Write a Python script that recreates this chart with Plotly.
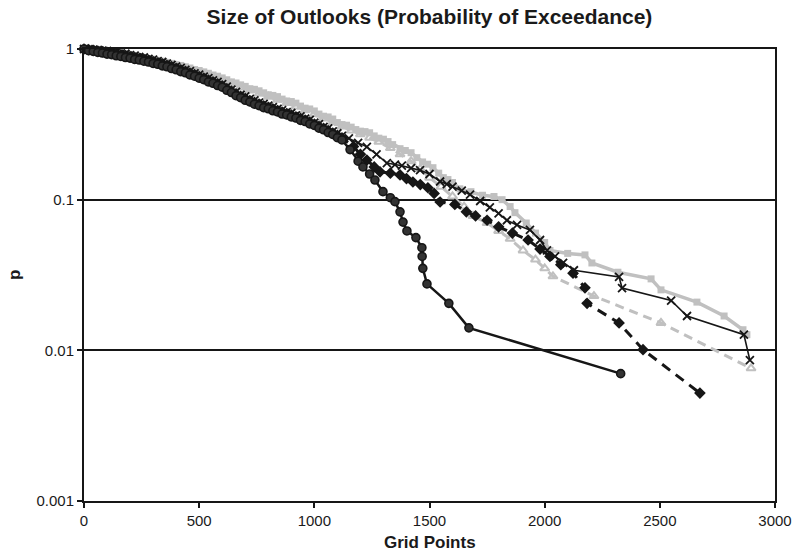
import plotly.graph_objects as go

# Exceedance curves: grid points in an outlook vs probability of exceedance
# Series A - black solid, circle markers
a_x = [0, 20, 40, 60, 80, 100, 120, 140, 160, 180, 200, 220, 240, 260, 280, 300,
       320, 340, 360, 380, 400, 420, 440, 460, 480, 500, 520, 540, 560, 580, 600,
       620, 640, 660, 680, 700, 720, 740, 760, 780, 800, 820, 840, 860, 880, 900,
       920, 940, 960, 980, 1000, 1020, 1040, 1060, 1080, 1100, 1120, 1155,
       1190, 1211, 1240, 1263, 1298, 1330, 1350, 1372, 1385, 1402, 1441, 1467, 1468,
       1471, 1489, 1584, 1671, 2330]
a_p = [1.0, 0.975, 0.965, 0.95, 0.94, 0.925, 0.918, 0.902, 0.893, 0.878, 0.87, 0.853,
       0.845, 0.83, 0.82, 0.802, 0.792, 0.773, 0.762, 0.742, 0.728, 0.708, 0.695, 0.673,
       0.66, 0.64, 0.626, 0.605, 0.592, 0.572, 0.558, 0.532, 0.514, 0.49, 0.475, 0.457,
       0.446, 0.43, 0.421, 0.408, 0.401, 0.389, 0.382, 0.37, 0.365, 0.354, 0.348, 0.336,
       0.33, 0.318, 0.311, 0.298, 0.291, 0.279, 0.271, 0.258, 0.249, 0.215,
       0.18, 0.165, 0.148, 0.135, 0.113, 0.103, 0.097, 0.083, 0.071, 0.062, 0.056,
       0.048, 0.042, 0.035, 0.0276, 0.0205, 0.0141, 0.007]

# Series B - black dashed, diamond markers
b_x = [0, 20, 40, 60, 80, 100, 120, 140, 160, 180, 200, 220, 240, 260, 280, 300,
       320, 340, 360, 380, 400, 420, 440, 460, 480, 500, 520, 540, 560, 580, 600,
       620, 640, 660, 680, 700, 720, 740, 760, 780, 800, 820, 840, 860, 880, 900,
       920, 940, 960, 980, 1000, 1020, 1040, 1060, 1080, 1100, 1120, 1170,
       1200, 1228, 1260, 1285, 1330, 1372, 1400, 1428, 1460, 1493, 1520, 1546, 1610,
       1660, 1700, 1750, 1800, 1860, 1928, 1980, 2023, 2070, 2123, 2175, 2184, 2323,
       2427, 2674]
b_p = [1.0, 0.99, 0.98, 0.97, 0.96, 0.95, 0.94, 0.928, 0.915, 0.903, 0.89, 0.878,
       0.865, 0.853, 0.84, 0.826, 0.81, 0.796, 0.78, 0.763, 0.745, 0.728, 0.71, 0.692,
       0.675, 0.657, 0.64, 0.622, 0.605, 0.588, 0.57, 0.547, 0.525, 0.503, 0.485, 0.47,
       0.455, 0.442, 0.43, 0.42, 0.41, 0.4, 0.39, 0.381, 0.372, 0.364, 0.355, 0.346,
       0.337, 0.327, 0.317, 0.307, 0.297, 0.287, 0.277, 0.267, 0.257, 0.225,
       0.2, 0.183, 0.165, 0.153, 0.15, 0.146, 0.138, 0.131, 0.126, 0.12, 0.11, 0.0965,
       0.093, 0.083, 0.078, 0.073, 0.066, 0.06, 0.054, 0.047, 0.042, 0.037, 0.0325,
       0.026, 0.0205, 0.0152, 0.0101, 0.0052]

# Series C - thin black line, x markers
c_x = [0, 20, 40, 60, 80, 100, 120, 140, 160, 180, 200, 220, 240, 260, 280, 300,
       320, 340, 360, 380, 400, 420, 440, 460, 480, 500, 520, 540, 560, 580, 600,
       620, 640, 660, 680, 700, 720, 740, 760, 780, 800, 820, 840, 860, 880, 900,
       920, 940, 960, 980, 1000, 1020, 1040, 1060, 1080, 1100, 1120, 1150,
       1190, 1228, 1270, 1315, 1350, 1380, 1420, 1459, 1500, 1546, 1575, 1600, 1640,
       1676, 1720, 1762, 1800, 1836, 1880, 1936, 1980, 2010, 2045, 2080, 2127, 2323,
       2336, 2549, 2618, 2865, 2891]
c_p = [1.0, 0.998, 0.99, 0.985, 0.975, 0.972, 0.96, 0.955, 0.935, 0.93, 0.91, 0.903,
       0.885, 0.878, 0.86, 0.85, 0.83, 0.82, 0.8, 0.785, 0.765, 0.75, 0.727, 0.713,
       0.69, 0.676, 0.655, 0.64, 0.62, 0.605, 0.585, 0.563, 0.538, 0.52, 0.497, 0.485,
       0.466, 0.456, 0.441, 0.433, 0.42, 0.412, 0.4, 0.393, 0.381, 0.376, 0.363, 0.357,
       0.345, 0.338, 0.325, 0.317, 0.304, 0.297, 0.284, 0.276, 0.265, 0.255,
       0.238, 0.224, 0.2, 0.175, 0.171, 0.168, 0.162, 0.157, 0.148, 0.132, 0.127, 0.122,
       0.115, 0.108, 0.098, 0.089, 0.081, 0.073, 0.068, 0.063, 0.054, 0.046, 0.042,
       0.038, 0.034, 0.0307, 0.0259, 0.0214, 0.0169, 0.0127, 0.0086]

# Series D - grey solid, square markers
d_x = [0, 20, 40, 60, 80, 100, 120, 140, 160, 180, 200, 220, 240, 260, 280, 300,
       320, 340, 360, 380, 400, 420, 440, 460, 480, 500, 520, 540, 560, 580, 600,
       620, 640, 660, 680, 700, 720, 740, 760, 780, 800, 820, 840, 860, 880, 900,
       920, 940, 960, 980, 1000, 1020, 1040, 1060, 1080, 1100, 1120, 1140, 1160, 1180,
       1200, 1220, 1240, 1260, 1280, 1300, 1320, 1340, 1372, 1395, 1420, 1445, 1470,
       1492, 1515, 1540, 1560, 1580, 1600, 1632, 1680, 1730, 1780, 1815, 1850, 1871,
       1920, 1960, 2000, 2023, 2100, 2175, 2205, 2318, 2462, 2505, 2661, 2779, 2861,
       2878]
d_p = [1.0, 0.992, 0.985, 0.978, 0.968, 0.962, 0.95, 0.943, 0.93, 0.922, 0.91, 0.9,
       0.888, 0.878, 0.865, 0.855, 0.84, 0.83, 0.815, 0.803, 0.787, 0.778, 0.762, 0.748,
       0.73, 0.72, 0.705, 0.69, 0.672, 0.66, 0.643, 0.625, 0.605, 0.595, 0.578, 0.565,
       0.545, 0.54, 0.528, 0.512, 0.497, 0.492, 0.483, 0.465, 0.452, 0.448, 0.437, 0.418,
       0.405, 0.4, 0.388, 0.37, 0.358, 0.354, 0.343, 0.325, 0.315, 0.312, 0.303, 0.292,
       0.285, 0.283, 0.278, 0.265, 0.256, 0.252, 0.243, 0.232, 0.218, 0.212, 0.205, 0.19,
       0.178, 0.172, 0.163, 0.15, 0.14, 0.136, 0.13, 0.118, 0.113, 0.107, 0.105, 0.1,
       0.09, 0.082, 0.07, 0.06, 0.052, 0.046, 0.044, 0.043, 0.038, 0.033, 0.0298, 0.0252,
       0.0209, 0.0169, 0.0137, 0.0127]

# Series E - grey dashed, triangle markers
e_x = [0, 40, 80, 120, 160, 200, 240, 280, 320, 360, 400, 440, 480, 520, 560, 600,
       640, 680, 720, 760, 800, 840, 880, 920, 960, 1000, 1040, 1080, 1120, 1160,
       1200, 1240, 1280, 1330, 1372, 1420, 1460, 1500, 1550, 1600, 1650, 1689, 1750,
       1800, 1850, 1906, 1960, 2000, 2036, 2214, 2505, 2896]
e_p = [1.0, 0.978, 0.958, 0.938, 0.918, 0.896, 0.873, 0.85, 0.824, 0.796, 0.77, 0.74,
       0.71, 0.68, 0.648, 0.617, 0.585, 0.556, 0.53, 0.506, 0.482, 0.46, 0.438, 0.415,
       0.392, 0.37, 0.346, 0.326, 0.306, 0.288, 0.272, 0.258, 0.242, 0.22, 0.2, 0.18,
       0.16, 0.14, 0.122, 0.105, 0.09, 0.078, 0.07, 0.062, 0.055, 0.046, 0.04, 0.035,
       0.031, 0.0229, 0.0152, 0.0076]

y_tickvals = [0.001, 0.01, 0.1, 1]
y_ticktext = ["0.001", "0.01", "0.1", "1"]
x_tickvals = [0, 500, 1000, 1500, 2000, 2500, 3000]

GREY = "#c0c0c0"
BLACK = "#161616"
FONT = "Liberation Sans, Arial, sans-serif"

fig = go.Figure()

fig.add_trace(go.Scatter(
    x=d_x, y=d_p, mode="lines+markers", cliponaxis=False,
    line=dict(color=GREY, width=3.5),
    marker=dict(symbol="square", size=7, color=GREY)))
fig.add_trace(go.Scatter(
    x=e_x, y=e_p, mode="lines+markers", cliponaxis=False,
    line=dict(color=GREY, width=3, dash="9px,6px"),
    marker=dict(symbol="triangle-up-open", size=8, color=GREY, line=dict(width=2))))
fig.add_trace(go.Scatter(
    x=c_x, y=c_p, mode="lines+markers", cliponaxis=False,
    line=dict(color=BLACK, width=1.6),
    marker=dict(symbol="x-thin", size=8, color=BLACK, line=dict(width=1.8, color=BLACK))))
fig.add_trace(go.Scatter(
    x=b_x, y=b_p, mode="lines+markers", cliponaxis=False,
    line=dict(color=BLACK, width=3, dash="10px,7px"),
    marker=dict(symbol="diamond", size=9, color=BLACK)))
fig.add_trace(go.Scatter(
    x=a_x, y=a_p, mode="lines+markers", cliponaxis=False,
    line=dict(color=BLACK, width=2.5),
    marker=dict(symbol="circle", size=8, color="#333333",
                line=dict(width=1.6, color=BLACK))))

fig.update_layout(
    width=793, height=555,
    margin=dict(l=84, r=18, t=49, b=54),
    paper_bgcolor="white", plot_bgcolor="white",
    showlegend=False,
    font=dict(family=FONT, color="#1a1a1a"),
    title=dict(text="<b>Size of Outlooks (Probability of Exceedance)</b>",
               x=0.5, xref="paper", xanchor="center",
               y=1 - 17 / 555, yref="container", yanchor="middle",
               font=dict(size=21, color="#1a1a1a")),
    annotations=[
        dict(text="<b>p</b>", xref="paper", yref="paper",
             x=(14 - 84) / 691, y=0.5, xanchor="center", yanchor="middle",
             textangle=-90, showarrow=False, font=dict(size=17)),
        dict(text="<b>Grid Points</b>", xref="paper", yref="paper",
             x=0.5, y=(501 - 542) / 452, xanchor="center", yanchor="middle",
             showarrow=False, font=dict(size=17)),
    ],
)

fig.update_xaxes(
    range=[0, 3000], tickvals=x_tickvals, automargin=False,
    showline=True, linecolor=BLACK, linewidth=2, mirror=True,
    ticks="outside", ticklen=5, tickwidth=1.5, tickcolor=BLACK,
    showgrid=False, zeroline=False,
    tickfont=dict(size=15),
)
fig.update_yaxes(
    type="log", range=[-3, 0], tickvals=y_tickvals, ticktext=y_ticktext,
    automargin=False,
    showline=True, linecolor=BLACK, linewidth=2, mirror=True,
    ticks="outside", ticklen=5, tickwidth=1.5, tickcolor=BLACK,
    showgrid=True, gridcolor=BLACK, gridwidth=1.5,
    tickfont=dict(size=15),
)

fig.write_html("out.html")
